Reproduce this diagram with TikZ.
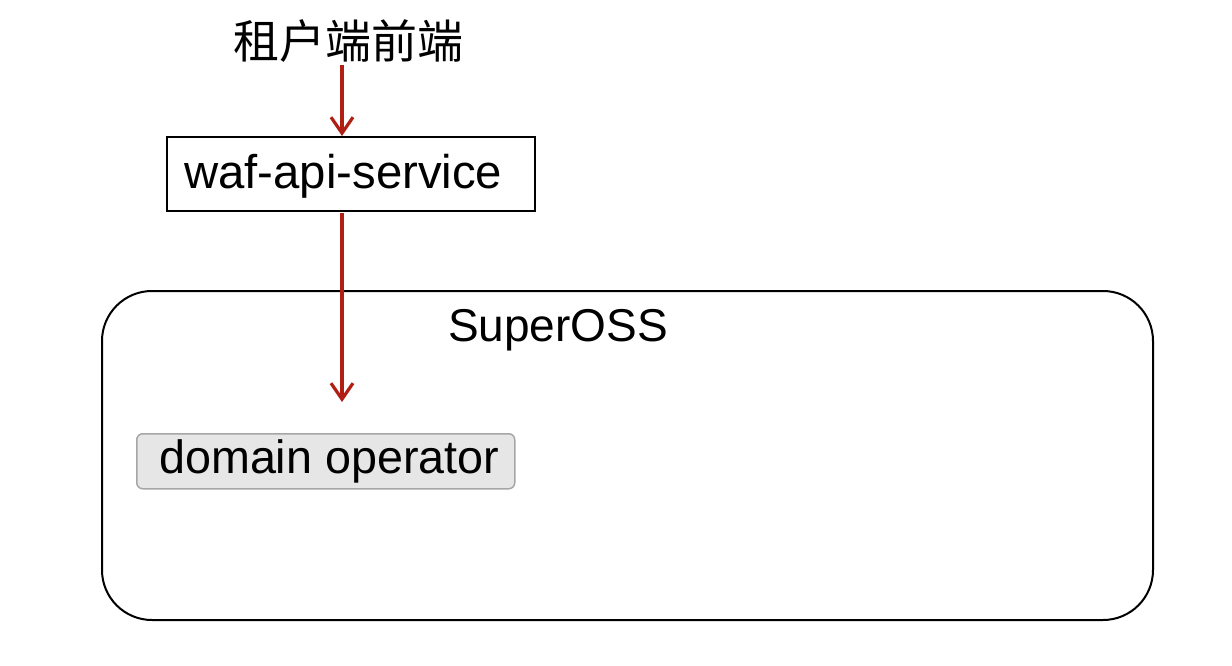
\documentclass[tikz,border=0pt]{standalone}
\usepackage{fontspec}
\setmainfont{Liberation Sans}
\newfontfamily\cjk{Noto Sans CJK SC}
\usetikzlibrary{arrows.meta}
\definecolor{arrowred}{HTML}{B01F14}
\definecolor{opfill}{HTML}{E6E6E6}
\definecolor{opdraw}{HTML}{A6A6A6}
\tikzset{
  flow/.style={draw=arrowred, line width=3.2pt, -{Straight Barb[length=16pt,width=22pt,line width=3.2pt]}},
  svcbox/.style={draw=black, line width=2pt, minimum width=368pt, minimum height=74pt, inner sep=0pt, anchor=north west},
  container/.style={draw=black, line width=2pt, rounded corners=50pt},
  opbox/.style={draw=opdraw, fill=opfill, line width=1.5pt, rounded corners=6pt, minimum width=378pt, minimum height=55pt, inner sep=0pt, anchor=north west},
  lbl/.style={font=\fontsize{46}{50}\selectfont, inner sep=0pt}
}
\begin{document}
\begin{tikzpicture}[x=1pt,y=-1pt]
\useasboundingbox (0,0) rectangle (1232,666);
% container
\draw[container] (102,291) rectangle (1153,620);
\node[lbl, anchor=base] (super) at (558,341) {SuperOSS};
% top label
\node[lbl, font=\cjk\fontsize{46}{50}\selectfont, anchor=base] (front) at (348,59) {租户端前端};
% waf box
\node[svcbox] (waf) at (166,136) {};
\node[lbl, font=\fontsize{47.3}{50}\selectfont, anchor=base west] (waftext) at (184,189) {waf-api-service};
% domain operator
\node[opbox] (op) at (136,433) {};
\node[lbl, font=\fontsize{46.7}{50}\selectfont, anchor=base west] (optext) at (159,473) {domain operator};
% arrows
\coordinate (a1s) at (342,65);
\coordinate (a2s) at (342,213);
\coordinate (a2e) at (342,402);
\draw[flow] (a1s) -- (a1s |- waf.north);
\draw[flow] (a2s) -- (a2e);
\end{tikzpicture}
\end{document}
